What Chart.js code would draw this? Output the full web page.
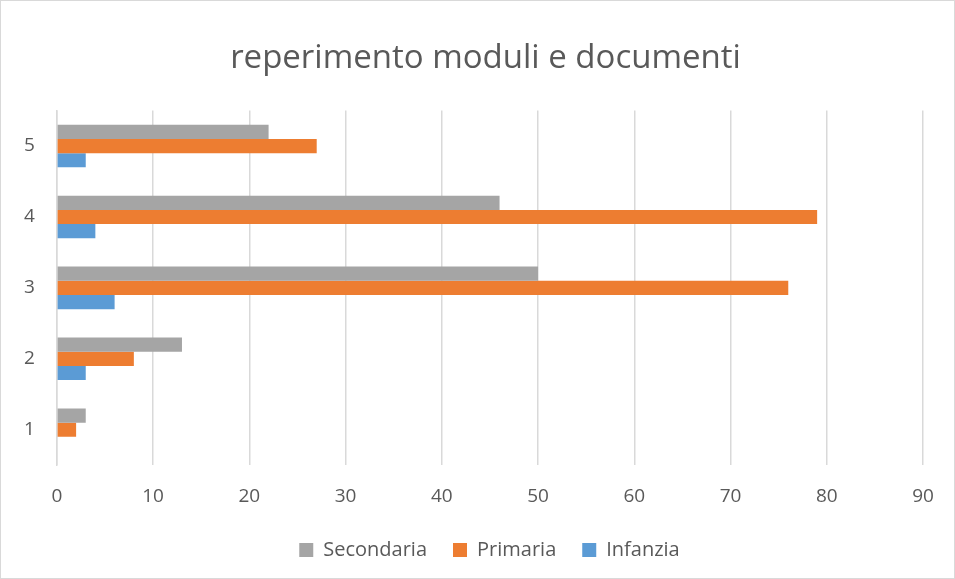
<!DOCTYPE html>
<html>
<head>
<meta charset="utf-8">
<script src="https://cdn.jsdelivr.net/npm/chart.js@4/dist/chart.umd.min.js"></script>
<style>
  html, body { margin: 0; padding: 0; background: #fff; }
  #wrap { position: absolute; left: 0; top: 0; width: 953px; height: 577px; border: 1px solid #d9d9d9; }
</style>
</head>
<body>
<div id="wrap"><canvas id="chart"></canvas></div>
<script>
// categories and series
const categories = ['1', '2', '3', '4', '5'];
const secondaria = [3, 13, 50, 46, 22];
const primaria = [2, 8, 76, 79, 27];
const infanzia = [0, 3, 6, 4, 3];
const xTicksMax = 90;

const textColor = '#595959';
const fontFamily = "'Open Sans', 'Liberation Sans', sans-serif";

const canvas = document.getElementById('chart');

const data = {
    labels: categories,
    datasets: [{
            label: 'Secondaria',
            backgroundColor: '#a5a5a5',
            data: secondaria,
        },
        {
            label: 'Primaria',
            backgroundColor: '#ed7d31',
            data: primaria,
        },
        {
            label: 'Infanzia',
            backgroundColor: '#5b9bd5',
            data: infanzia,
        }
    ]
};

// title and legend are centred on the whole chart in the original, not on the padded area
const centreShift = {
    id: 'centreShift',
    afterLayout(chart) {
        chart.legend.left += 27;
        chart.legend.right += 27;
        chart.titleBlock.left += 23;
        chart.titleBlock.right += 23;
    }
};

const config = {
    type: 'bar',
    data: data,
    plugins: [centreShift],
    options: {
        indexAxis: 'y',
        responsive: true,
        maintainAspectRatio: false,
        animation: false,
        categoryPercentage: 0.6,
        barPercentage: 1.0,
        layout: {
            padding: { left: 1, right: 31, top: 8, bottom: 8 }
        },
        scales: {
            x: {
                min: 0,
                max: xTicksMax,
                ticks: {
                    stepSize: 10,
                    color: textColor,
                    padding: 20,
                    font: { family: fontFamily, size: 19 }
                },
                grid: {
                    color: '#d9d9d9',
                    lineWidth: 1.5,
                    drawTicks: false
                },
                border: { display: false },
                // tighten the gap between tick labels and legend
                afterFit: function(scale) {
                    scale.height -= 14;
                }
            },
            y: {
                reverse: true,
                ticks: {
                    color: textColor,
                    padding: 22,
                    font: { family: fontFamily, size: 19 }
                },
                grid: { display: false, drawTicks: false },
                border: { display: true, color: '#d9d9d9', width: 1.5 }
            }
        },
        plugins: {
            title: {
                display: true,
                text: 'reperimento moduli e documenti',
                color: textColor,
                padding: { top: 30, bottom: 32 },
                font: { family: fontFamily, size: 33, weight: 'normal' }
            },
            legend: {
                position: 'bottom',
                labels: {
                    color: textColor,
                    boxWidth: 14,
                    boxHeight: 14,
                    padding: 26,
                    font: { family: fontFamily, size: 20 }
                }
            },
            tooltip: { enabled: false }
        }
    }
};

const chart = new Chart(canvas, config);
</script>
</body>
</html>
